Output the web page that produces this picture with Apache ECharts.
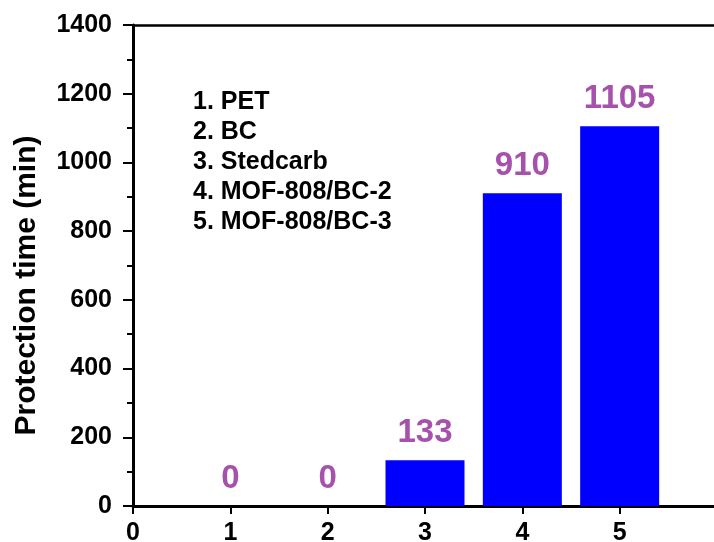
<!DOCTYPE html>
<html>
<head>
<meta charset="utf-8">
<script src="https://cdn.jsdelivr.net/npm/echarts@6/dist/echarts.min.js"></script>
<style>
  html, body { margin: 0; padding: 0; background: #fff; }
  #myChart { width: 714px; height: 542px; }
</style>
</head>
<body>
<div id="myChart"></div>
<script>
// sample positions on the x axis and their protection times
var positions = [1, 2, 3, 4, 5];
var protectionTime = [0, 0, 133, 910, 1105];
var sampleNames = ['1. PET', '2. BC', '3. Stedcarb', '4. MOF-808/BC-2', '5. MOF-808/BC-3'];
var yTicks = [0, 200, 400, 600, 800, 1000, 1200, 1400];

var font = 'Liberation Sans, Arial, sans-serif';
var myChart = echarts.init(document.getElementById('myChart'));

var barData = positions.map(function (p, i) { return [p, protectionTime[i]]; });

var legendText = sampleNames.map(function (name, i) {
  return {
    type: 'text',
    left: 193,
    top: 90 + i * 30,
    style: { text: name, font: 'bold 25px ' + font, fill: '#000' }
  };
});

var option = {
  animation: false,
  grid: {
    left: 133, top: 25, width: 584, height: 481,
    containLabel: false, outerBoundsMode: 'none'
  },
  xAxis: [{
    type: 'value',
    min: 0,
    max: 6,
    interval: 1,
    axisLine: { lineStyle: { color: '#000', width: 3 } },
    axisTick: { length: 8, lineStyle: { color: '#000', width: 2 } },
    axisLabel: {
      color: '#000', fontSize: 25, fontWeight: 'bold', fontFamily: font, margin: 15,
      formatter: function (v) { return v === 6 ? '' : v; }
    },
    splitLine: { show: false }
  }, {
    type: 'value',
    position: 'top',
    min: 0,
    max: 6,
    axisLine: { show: true, lineStyle: { color: '#000', width: 2.5 } },
    axisTick: { show: false },
    axisLabel: { show: false },
    splitLine: { show: false }
  }],
  yAxis: {
    type: 'value',
    min: yTicks[0],
    max: yTicks[yTicks.length - 1],
    interval: 200,
    name: 'Protection time (min)',
    nameLocation: 'middle',
    nameGap: 91,
    nameRotate: 90,
    nameTextStyle: {
      color: '#000', fontSize: 30, fontWeight: 'bold', fontFamily: font,
      padding: [0, 40, 0, 0]
    },
    axisLine: { show: true, lineStyle: { color: '#000', width: 3 } },
    axisTick: { length: 10, lineStyle: { color: '#000', width: 2 } },
    minorTick: { show: true, splitNumber: 2, length: 6, lineStyle: { color: '#000', width: 2 } },
    axisLabel: {
      color: '#000', fontSize: 25, fontWeight: 'bold', fontFamily: font, margin: 21,
      formatter: function (v) { return String(v); }
    },
    splitLine: { show: false }
  },
  series: [{
    type: 'bar',
    xAxisIndex: 0,
    data: barData,
    barWidth: 79,
    itemStyle: { color: '#0000ff' },
    label: {
      show: true,
      position: 'top',
      distance: 11,
      color: '#a652ad',
      fontSize: 33,
      fontWeight: 'bold',
      fontFamily: font,
      formatter: function (p) { return p.value[1]; }
    }
  }],
  graphic: legendText
};

myChart.setOption(option);
</script>
</body>
</html>
